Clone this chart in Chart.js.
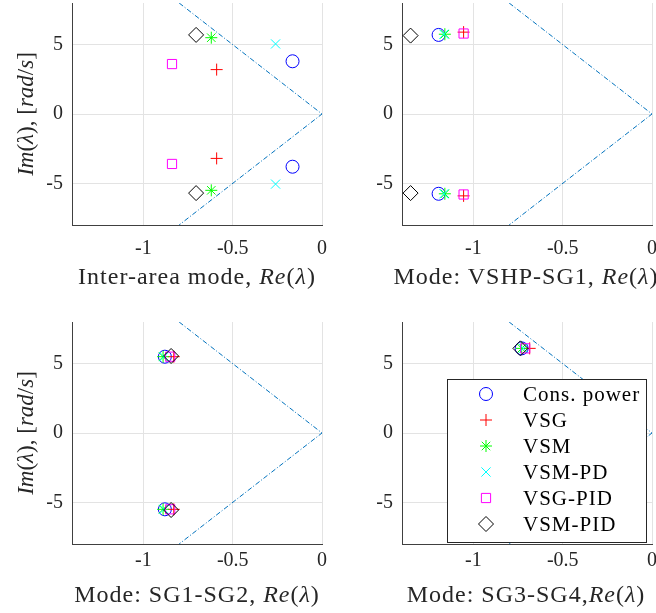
<!DOCTYPE html>
<html>
<head>
<meta charset="utf-8">
<script src="https://cdn.jsdelivr.net/npm/chart.js@4.4.1/dist/chart.umd.min.js"></script>
<style>
  body { margin: 0; background: #fff; }
  #page { position: relative; width: 656px; height: 613px; overflow: hidden; font-family: 'Liberation Serif', serif; color: #262626; }
  canvas { position: absolute; }
  .lbl { position: absolute; white-space: nowrap; font-size: 24px; letter-spacing: 1px; transform: translate(-50%, -50%); }
  .lbl.rot { font-size: 23px; letter-spacing: 0; transform: translate(-50%, -50%) rotate(-90deg); }
</style>
</head>
<body>
<div id="page">
  <canvas id="c0" width="330" height="300" style="left:0;top:0"></canvas>
  <canvas id="c1" width="326" height="300" style="left:330px;top:0"></canvas>
  <canvas id="c2" width="330" height="313" style="left:0;top:300px"></canvas>
  <canvas id="c3" width="326" height="313" style="left:330px;top:300px"></canvas>

  <div class="lbl" style="left:197px;top:276px">Inter-area mode, <i>Re</i>(<i>λ</i>)</div>
  <div class="lbl" style="left:526px;top:276px">Mode: VSHP-SG1, <i>Re</i>(<i>λ</i>)</div>
  <div class="lbl" style="left:197px;top:594px">Mode: SG1-SG2, <i>Re</i>(<i>λ</i>)</div>
  <div class="lbl" style="left:526px;top:594px">Mode: SG3-SG4,<i>Re</i>(<i>λ</i>)</div>
  <div class="lbl rot" style="left:26px;top:114px"><i>Im</i>(<i>λ</i>), [<i>rad</i>/<i>s</i>]</div>
  <div class="lbl rot" style="left:26px;top:433px"><i>Im</i>(<i>λ</i>), [<i>rad</i>/<i>s</i>]</div>
</div>
<script>
const seriesNames = ['Cons. power', 'VSG', 'VSM', 'VSM-PD', 'VSG-PID', 'VSM-PID'];

// eigenvalues, one entry per controller
const interRe = [-0.165, -0.59, -0.62, -0.26, -0.84, -0.705];
const interImUp = [3.8, 3.2, 5.5, 5.05, 3.6, 5.7];
const interImLow = [-3.8, -3.2, -5.5, -5.05, -3.6, -5.7];

const vshpRe = [-1.195, -1.055, -1.16, -1.165, -1.055, -1.352];
const vshpImUp = [5.7, 5.9, 5.75, 5.75, 5.8, 5.65];
const vshpImLow = [-5.75, -5.9, -5.75, -5.75, -5.8, -5.7];

const sg12Re = [-0.88, -0.83, -0.89, -0.885, -0.85, -0.845];
const sg12ImUp = [5.5, 5.5, 5.5, 5.5, 5.5, 5.55];
const sg12ImLow = [-5.5, -5.5, -5.5, -5.5, -5.5, -5.55];

const sg34Re = [-0.73, -0.685, -0.73, -0.72, -0.71, -0.737];
const sg34ImUp = [6.1, 6.1, 6.1, 6.1, 6.1, 6.1];
const sg34ImLow = [-6.1, -6.1, -6.1, -6.1, -6.1, -6.1];

// damping ratio line
const dampRe = [-0.8, 0, -0.8];
const dampIm = [8, 0, -8];

const xTicks = [-1, -0.5, 0];
const yTicks = [-5, 0, 5];

const markers = [
    { style: 'circle', r: 6.5, color: '#0000ff' },
    { style: 'cross', r: 6, color: '#ff0000' },
    { style: 'star', r: 6, color: '#00ff00' },
    { style: 'crossRot', r: 6.5, color: '#00ffff' },
    { style: 'rect', r: 6.5, color: '#ff00ff' },
    { style: 'rectRot', r: 7.5, color: '#000000' }
];

const tickFont = { family: 'Liberation Serif', size: 20 };

const legendBox = {
    id: 'legendBox',
    afterDraw(chart) {
        const ctx = chart.ctx, ca = chart.chartArea;
        const left = ca.right - 205, right = ca.right - 6, top = ca.top + 57, bottom = ca.bottom - 2;
        ctx.save();
        ctx.fillStyle = '#fff';
        ctx.fillRect(left, top, right - left, bottom - top);
        ctx.strokeStyle = '#262626';
        ctx.lineWidth = 1;
        ctx.strokeRect(left + 0.5, top + 0.5, right - left, bottom - top);
        ctx.font = '21px "Liberation Serif"';
        ctx.letterSpacing = '1px';
        ctx.textBaseline = 'middle';
        seriesNames.forEach((name, i) => {
            const y = top + 15 + i * 26;
            ctx.strokeStyle = markers[i].color;
            ctx.fillStyle = 'rgba(0,0,0,0)';
            ctx.lineWidth = 1;
            Chart.helpers.drawPoint(ctx, { pointStyle: markers[i].style, radius: markers[i].r, borderWidth: 1, rotation: 0 }, left + 39, y);
            ctx.fillStyle = '#000';
            ctx.fillText(name, left + 76, y + 1);
        });
        ctx.restore();
    }
};

function makeChart(id, re, imUp, imLow, o) {
    const datasets = seriesNames.map((name, i) => ({
        label: name,
        data: [{ x: re[i], y: imUp[i] }, { x: re[i], y: imLow[i] }],
        pointStyle: markers[i].style,
        pointRadius: markers[i].r,
        borderColor: markers[i].color,
        backgroundColor: 'rgba(0,0,0,0)',
        borderWidth: 1,
        order: seriesNames.length - i
    }));
    datasets.push({
        label: 'damping',
        data: dampRe.map((x, k) => ({ x: x, y: dampIm[k] })),
        showLine: true,
        borderColor: '#0072bd',
        borderWidth: 1,
        borderDash: [5, 2, 1, 2],
        pointRadius: 0,
        order: 10
    });
    return new Chart(document.getElementById(id).getContext('2d'), {
        type: 'scatter',
        data: { datasets: datasets },
        options: {
            responsive: false,
            animation: false,
            events: [],
            layout: { padding: { left: 0, right: o.padRight, top: o.padTop, bottom: 0 }, autoPadding: false },
            plugins: { legend: { display: false }, tooltip: { enabled: false } },
            scales: {
                x: {
                    type: 'linear', min: -1.4, max: 0,
                    afterBuildTicks: s => { s.ticks = xTicks.map(v => ({ value: v })); },
                    afterFit: s => { s.height = o.xH; s.paddingLeft = 0; s.paddingRight = 0; },
                    grid: { color: '#e3e3e3', drawTicks: false },
                    border: { color: '#404040', width: 1 },
                    ticks: { padding: o.tickPad, color: '#262626', font: tickFont, maxRotation: 0, autoSkip: false, callback: v => String(v) }
                },
                y: {
                    type: 'linear', min: -8, max: 8,
                    afterBuildTicks: s => { s.ticks = yTicks.map(v => ({ value: v })); },
                    afterFit: s => { s.width = 72; s.paddingTop = 0; s.paddingBottom = 0; },
                    grid: { color: '#e3e3e3', drawTicks: false },
                    border: { color: '#404040', width: 1 },
                    ticks: { padding: 9, color: '#262626', font: tickFont, autoSkip: false, callback: v => String(v) }
                }
            }
        },
        plugins: o.legend ? [legendBox] : []
    });
}

makeChart('c0', interRe, interImUp, interImLow, { padRight: 8, padTop: 3, xH: 75, tickPad: 12 });
makeChart('c1', vshpRe, vshpImUp, vshpImLow, { padRight: 4, padTop: 3, xH: 75, tickPad: 12 });
makeChart('c2', sg12Re, sg12ImUp, sg12ImLow, { padRight: 8, padTop: 22, xH: 69, tickPad: 5 });
makeChart('c3', sg34Re, sg34ImUp, sg34ImLow, { padRight: 4, padTop: 22, xH: 69, tickPad: 5, legend: true });
</script>
</body>
</html>
